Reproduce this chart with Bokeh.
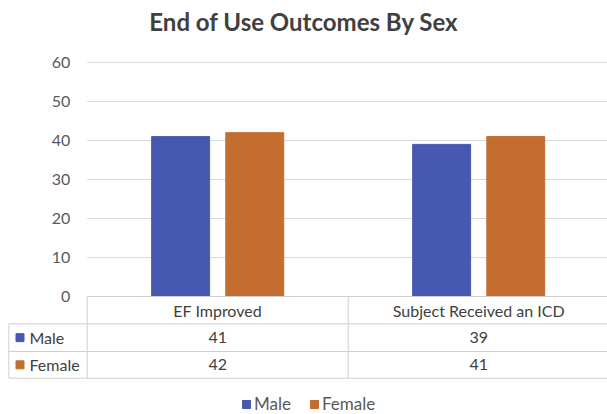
import numpy as np
from bokeh.plotting import figure
from bokeh.models import Range1d, FixedTicker, Legend, LegendItem, Label
from bokeh.core.properties import value
from bokeh.embed import file_html
from bokeh.resources import INLINE

# ---- data ----
title_text = "End of Use Outcomes By Sex"
categories = ["EF Improved", "Subject Received an ICD"]
series = ["Male", "Female"]
male = [41, 39]
female = [42, 41]
colors = ["#4758B1", "#C46D31"]
y_ticks = [0, 10, 20, 30, 40, 50, 60]

FONT = "Lato"
W, H = 607, 414
# pixel layout helpers (plot area: x=0 at px 86.7, one category = 261 px; y=0 at px 296, 3.9 px/unit)
X0, CW = 86.7, 261.0
Y0, YS = 296.0, 3.9


def dx(px):
    return (px - X0) / CW


def dy(py):
    return (Y0 - py) / YS


p = figure(width=W, height=H, output_backend="svg", toolbar_location=None, tools="",
           x_range=Range1d(dx(0), dx(W)), y_range=Range1d(dy(H), dy(0)),
           x_axis_location=None, min_border=0)
p.outline_line_color = None
p.grid.visible = False
p.background_fill_color = "white"
p.border_fill_color = "white"

ax = p.yaxis[0]
ax.ticker = FixedTicker(ticks=y_ticks)
ax.fixed_location = 0
ax.axis_line_color = None
ax.major_tick_line_color = None
ax.minor_tick_line_color = None
ax.major_label_standoff = 11
ax.major_label_text_font = FONT
ax.major_label_text_font_size = "16px"
ax.major_label_text_color = "#595959"

# gridlines from tick list
xr_end = dx(W + 5)
p.segment(x0=[0] * len(y_ticks), x1=[xr_end] * len(y_ticks), y0=y_ticks, y1=y_ticks,
          line_color="#D9D9D9", line_width=1)

# bars
xs = np.arange(len(categories)) + 0.5
off, bw = 0.142, 0.222
bars = []
for vals, col, sgn in zip([male, female], colors, [-1, 1]):
    r = p.vbar(x=xs + sgn * off, top=vals, width=bw, fill_color=col, line_color=col)
    bars.append(r)

# ---- data table ----
grid_col = "#D0D0D0"
row_tops = [296.0, 323.3, 351.0, 377.7]
left_px = 8.3
# horizontal lines
hx0 = [0, dx(left_px), dx(left_px), dx(left_px)]
p.segment(x0=hx0, x1=[xr_end] * 4, y0=[dy(v) for v in row_tops], y1=[dy(v) for v in row_tops],
          line_color=grid_col, line_width=1)
# vertical lines
vxs = [dx(left_px), 0, 1]
vy0 = [dy(row_tops[1]), dy(row_tops[0]), dy(row_tops[0])]
p.segment(x0=vxs, x1=vxs, y0=vy0, y1=[dy(row_tops[-1])] * 3, line_color=grid_col, line_width=1)

txt = dict(text_font=value(FONT), text_font_size="16px", text_color="#404040",
           text_baseline="middle")
hdr_y = dy((row_tops[0] + row_tops[1]) / 2)
p.text(x=xs, y=[hdr_y] * len(categories), text=categories, text_align="center", **txt)
for i, (vals, name, col) in enumerate(zip([male, female], series, colors)):
    ry = dy((row_tops[i + 1] + row_tops[i + 2]) / 2)
    p.text(x=xs, y=[ry] * len(vals), text=[str(v) for v in vals], text_align="center", **txt)
    p.text(x=[dx(29)], y=[ry], text=[name], text_align="left", **txt)
    p.scatter(x=[dx(19.5)], y=[ry], marker="square", size=8, fill_color=col, line_color=col)

# legend
legend = Legend(items=[LegendItem(label=s, renderers=[r]) for s, r in zip(series, bars)],
                orientation="horizontal", location=(241, 0),
                glyph_width=10, glyph_height=10, label_standoff=3, spacing=18,
                padding=0, margin=0, border_line_alpha=0, background_fill_alpha=0,
                label_text_font=FONT, label_text_font_size="17px", label_text_color="#595959")
p.add_layout(legend)

# title
p.add_layout(Label(x=W / 2, y=H - 21, x_units="screen", y_units="screen", text=title_text,
                   text_align="center", text_baseline="middle", text_font=FONT,
                   text_font_size="24px", text_font_style="bold", text_color="#404040"))

open("out.html", "w").write(file_html(p, INLINE))
